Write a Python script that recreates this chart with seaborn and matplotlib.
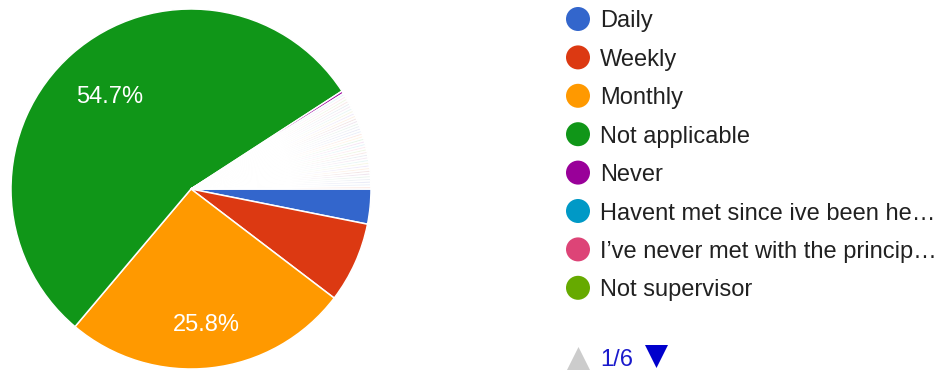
import numpy as np
import matplotlib
matplotlib.use("Agg")
import matplotlib.pyplot as plt
from matplotlib.colors import to_rgb
import seaborn as sns

# Response counts for "How often do you meet with your supervisor?"
labels = ["Daily", "Weekly", "Monthly", "Not applicable", "Never",
          "Havent met since ive been he\u2026", "I\u2019ve never met with the princip\u2026",
          "Not supervisor"]
counts = [13, 30, 107, 227, 1, 1, 1, 1]
# single free-text answers listed on the later legend pages
other_counts = [1, 1, 1, 1, 1, 1, 1, 1, 1, 1, 1, 1, 1, 1, 1, 1, 1,
                1, 1, 1, 1, 1, 1, 1, 1, 1, 1, 1, 1, 1, 1, 1, 1, 1]
page_text = "1/6"

palette = ["#3366cc", "#dc3912", "#ff9900", "#109618", "#990099", "#0099c6",
           "#dd4477", "#66aa00", "#b82e2e", "#316395", "#994499", "#22aa99",
           "#aaaa11", "#6633cc", "#e67300", "#8b0707", "#651067", "#329262",
           "#5574a6", "#3b3eac"]

sns.set_theme(style="white")
plt.rcParams["font.family"] = ["Liberation Sans", "DejaVu Sans"]

values = counts + other_counts
n_solid = 5
colors = []
for i in range(len(values)):
    c = palette[i % len(palette)]
    if i >= n_solid:
        r, g, b = to_rgb(c)
        a = 0.10
        c = (1 - a + a * r, 1 - a + a * g, 1 - a + a * b)
    colors.append(c)

W, H = 945, 371
fig = plt.figure(figsize=(W / 100, H / 100), dpi=100)
fig.patch.set_facecolor("white")

cx, cy, R = 191, 189, 180
ax = fig.add_axes([(cx - R) / W, (H - cy - R) / H, 2 * R / W, 2 * R / H])


def pct_label(p):
    return f"{p:.1f}%" if p >= 15 else ""


wedges, texts, autotexts = ax.pie(
    values, colors=colors, startangle=0, counterclock=False, radius=1,
    autopct=pct_label, pctdistance=0.72,
    wedgeprops=dict(edgecolor="white", linewidth=1.1),
    textprops=dict(color="white", fontsize=17))
ax.set_xlim(-1, 1)
ax.set_ylim(-1, 1)
ax.set_aspect("equal")
ax.axis("off")

label_radius = {2: 0.76, 3: 0.68}
for i, t in enumerate(autotexts):
    if i in label_radius:
        w = wedges[i]
        ang = np.deg2rad((w.theta1 + w.theta2) / 2)
        rr = label_radius[i]
        t.set_position((rr * np.cos(ang), rr * np.sin(ang)))

# legend panel in pixel coordinates
lax = fig.add_axes([0, 0, 1, 1], facecolor="none")
lax.set_xlim(0, W)
lax.set_ylim(H, 0)
lax.axis("off")

lx_marker, lx_text = 578, 600
y0, dy = 19, 38.4
ys = [y0 + i * dy for i in range(len(labels))]
lax.scatter([lx_marker] * len(labels), ys, s=(24 * 0.72) ** 2,
            c=palette[:len(labels)], linewidths=0)
for y, lab in zip(ys, labels):
    lax.text(lx_text, y, lab, fontsize=17, color="#212121",
             va="center_baseline", ha="left")

# pager
py = 357
lax.scatter([578], [py + 1], marker="^", s=(23 * 0.72) ** 2,
            color="#cccccc", linewidths=0)
lax.text(600, py, page_text, fontsize=17, color="#1a1acc",
         va="center_baseline", ha="left")
lax.scatter([656], [py - 1], marker="v", s=(23 * 0.72) ** 2,
            color="#0000cc", linewidths=0)

fig.savefig("out.png", dpi=100, facecolor="white")
